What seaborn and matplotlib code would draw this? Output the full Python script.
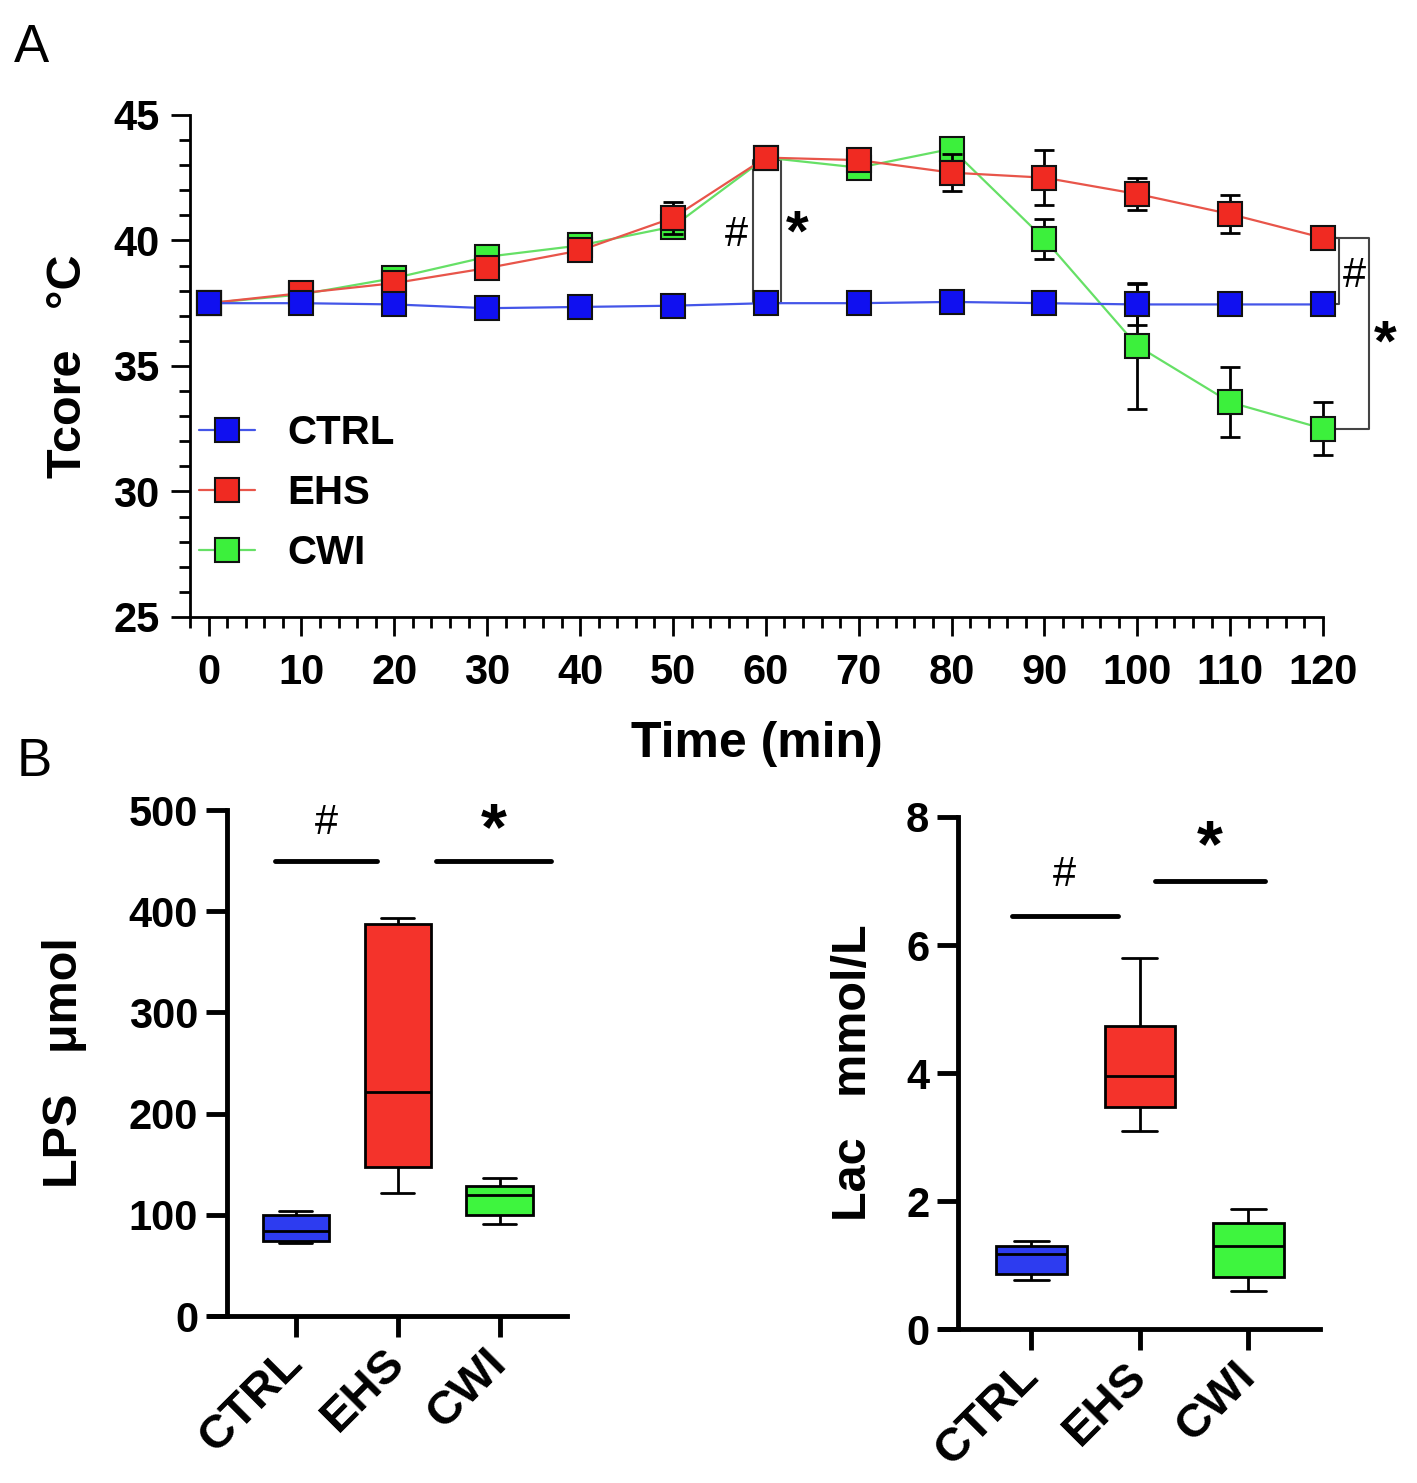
import numpy as np
import pandas as pd
import seaborn as sns
import matplotlib.pyplot as plt
from matplotlib.ticker import MultipleLocator

# ---- data ----
TIME = [0, 10, 20, 30, 40, 50, 60, 70, 80, 90, 100, 110, 120]
CTRL_T = [37.5, 37.5, 37.45, 37.3, 37.35, 37.4, 37.5, 37.5, 37.55, 37.5, 37.45, 37.45, 37.45]
CTRL_SD = [0.1, 0.1, 0.1, 0.1, 0.1, 0.1, 0.1, 0.1, 0.15, 0.1, 0.8, 0.1, 0.1]
EHS_T = [37.5, 37.9, 38.3, 38.9, 39.6, 40.9, 43.3, 43.2, 42.7, 42.5, 41.85, 41.05, 40.1]
EHS_SD = [0.1, 0.2, 0.5, 0.4, 0.4, 0.65, 0.3, 0.3, 0.75, 1.1, 0.65, 0.75, 0.2]
CWI_T = [37.5, 37.85, 38.5, 39.35, 39.8, 40.55, 43.3, 42.9, 43.65, 40.05, 35.8, 33.55, 32.5]
CWI_SD = [0.1, 0.2, 0.3, 0.3, 0.3, 0.3, 0.3, 0.45, 0.3, 0.8, 2.5, 1.4, 1.05]

GROUPS = ['CTRL', 'EHS', 'CWI']
# box summaries: whisker low, Q1, median, Q3, whisker high
LPS_CTRL = [72, 74, 84, 100, 104]
LPS_EHS = [122, 147, 221, 387, 393]
LPS_CWI = [91, 100, 120, 128, 136]
LAC_CTRL = [0.77, 0.86, 1.18, 1.29, 1.38]
LAC_EHS = [3.1, 3.47, 3.95, 4.73, 5.8]
LAC_CWI = [0.6, 0.82, 1.3, 1.65, 1.88]

MARK = {'CTRL': '#1010f0', 'EHS': '#f02a22', 'CWI': '#3cf03c'}
LINE = {'CTRL': '#4455e8', 'EHS': '#e8554a', 'CWI': '#66e066'}
BOX = {'CTRL': '#2d3cf0', 'EHS': '#f4332b', 'CWI': '#3ef53e'}

sns.set_style('ticks')
plt.rcParams['font.family'] = ['Liberation Sans', 'DejaVu Sans']
plt.rcParams['font.weight'] = 'bold'
plt.rcParams['axes.labelweight'] = 'bold'
for k in ['text.color', 'axes.labelcolor', 'xtick.color', 'ytick.color', 'axes.edgecolor']:
    plt.rcParams[k] = 'black'

fig = plt.figure(figsize=(14.17, 14.83), dpi=100)
ax_t = fig.add_axes([0.1341, 0.5840, 0.7996, 0.3385])
ax_l = fig.add_axes([0.1482, 0.1126, 0.2519, 0.3412])
ax_r = fig.add_axes([0.6634, 0.1038, 0.2682, 0.3453])

# ---- A: core temperature ----
series = [('CTRL', CTRL_T, CTRL_SD, 6), ('EHS', EHS_T, EHS_SD, 5), ('CWI', CWI_T, CWI_SD, 4)]
for name, vals, sd, z in series:
    eb = ax_t.errorbar(TIME, vals, yerr=sd, fmt='none', ecolor='black', elinewidth=2,
                       capsize=7, capthick=2, zorder=z - 0.5)
    for art in eb.get_children():
        art.set_clip_on(False)
    sns.lineplot(x=TIME, y=vals, ax=ax_t, color=LINE[name], lw=1.6, marker='s',
                 markersize=17, markerfacecolor=MARK[name], markeredgecolor='#111111',
                 markeredgewidth=1.5, label=name, zorder=z, clip_on=False)

ax_t.set_xlim(-2, 120)
ax_t.set_ylim(25, 45)
ax_t.xaxis.set_major_locator(MultipleLocator(10))
ax_t.xaxis.set_minor_locator(MultipleLocator(2))
ax_t.yaxis.set_major_locator(MultipleLocator(5))
ax_t.yaxis.set_minor_locator(MultipleLocator(1))
ax_t.tick_params(axis='both', which='major', length=14, width=2, labelsize=30, pad=8)
ax_t.tick_params(axis='both', which='minor', length=8, width=2)
ax_t.tick_params(axis='x', which='major', pad=12)
for s in ['left', 'bottom']:
    ax_t.spines[s].set_linewidth(2)
sns.despine(ax=ax_t)
ax_t.set_xlabel('Time (min)', fontsize=36, labelpad=20)
ax_t.set_ylabel('Tcore   °C', fontsize=35, labelpad=16)
ax_t.legend(loc='upper left', bbox_to_anchor=(0.008, 0.405), frameon=False, fontsize=29,
            handlelength=1.4, handletextpad=0.8, labelspacing=0.55, borderpad=0,
            borderaxespad=0)

# significance brackets
br = dict(color='#444444', lw=1.5, clip_on=False, zorder=2)
for bx in (58.6, 61.6):
    ax_t.plot([60, bx, bx, 60], [43.2, 43.2, 37.5, 37.5], **br)
ax_t.text(56.8, 40.2, '#', fontsize=30, fontweight='normal', ha='center', va='center')
ax_t.text(63.4, 40.2, '*', fontsize=42, ha='center', va='center')
ax_t.plot([120, 121.7, 121.7, 120], [40.1, 40.1, 37.45, 37.45], **br)
ax_t.plot([120, 125.0, 125.0, 120], [40.1, 40.1, 32.5, 32.5], **br)
ax_t.text(123.4, 38.6, '#', fontsize=30, fontweight='normal', ha='center', va='center')
ax_t.text(126.7, 35.8, '*', fontsize=42, ha='center', va='center')


# ---- B: box plots ----
def box_panel(ax, arrays, ylim, step, ylabel, ylabelpad, sig):
    df = pd.DataFrame({'group': np.repeat(GROUPS, 5), 'value': np.concatenate(arrays)})
    sns.boxplot(data=df, x='group', y='value', hue='group', palette=BOX, whis=(0, 100),
                width=0.65, linewidth=2, linecolor='black', saturation=1,
                showfliers=False, legend=False, ax=ax)
    ax.set_xlim(-0.84, 2.66)
    ax.set_ylim(*ylim)
    ax.spines['left'].set_position(('data', -0.67))
    ax.yaxis.set_major_locator(MultipleLocator(step))
    for s in ['left', 'bottom']:
        ax.spines[s].set_linewidth(3.5)
    sns.despine(ax=ax)
    ax.tick_params(axis='both', length=15, width=3.5, labelsize=30, pad=6)
    ax.tick_params(axis='x', pad=14)
    ax.set_xlabel('')
    ax.set_ylabel(ylabel, fontsize=35, labelpad=ylabelpad)
    for lab in ax.get_xticklabels():
        lab.set_rotation(45)
        lab.set_ha('right')
        lab.set_va('center')
        lab.set_rotation_mode('anchor')
        lab.set_fontsize(34)
    for x0, x1, y, txt, ty, fs, fw in sig:
        ax.plot([x0, x1], [y, y], color='black', lw=3.5, solid_capstyle='round')
        ax.text((x0 + x1) / 2, ty, txt, fontsize=fs, fontweight=fw, ha='center', va='center')


box_panel(ax_l, [LPS_CTRL, LPS_EHS, LPS_CWI], (0, 500), 100, 'LPS   μmol', 30,
          [(-0.2, 0.8, 450, '#', 487, 30, 'normal'), (1.38, 2.5, 450, '*', 478, 48, 'bold')])
box_panel(ax_r, [LAC_CTRL, LAC_EHS, LAC_CWI], (0, 8), 2, 'Lac   mmol/L', 22,
          [(-0.18, 0.8, 6.45, '#', 7.1, 30, 'normal'), (1.14, 2.15, 7.0, '*', 7.5, 48, 'bold')])

fig.text(0.010, 0.958, 'A', fontsize=38, fontweight='normal', va='baseline')
fig.text(0.012, 0.477, 'B', fontsize=38, fontweight='normal', va='baseline')

fig.savefig('out.png', dpi=100)
